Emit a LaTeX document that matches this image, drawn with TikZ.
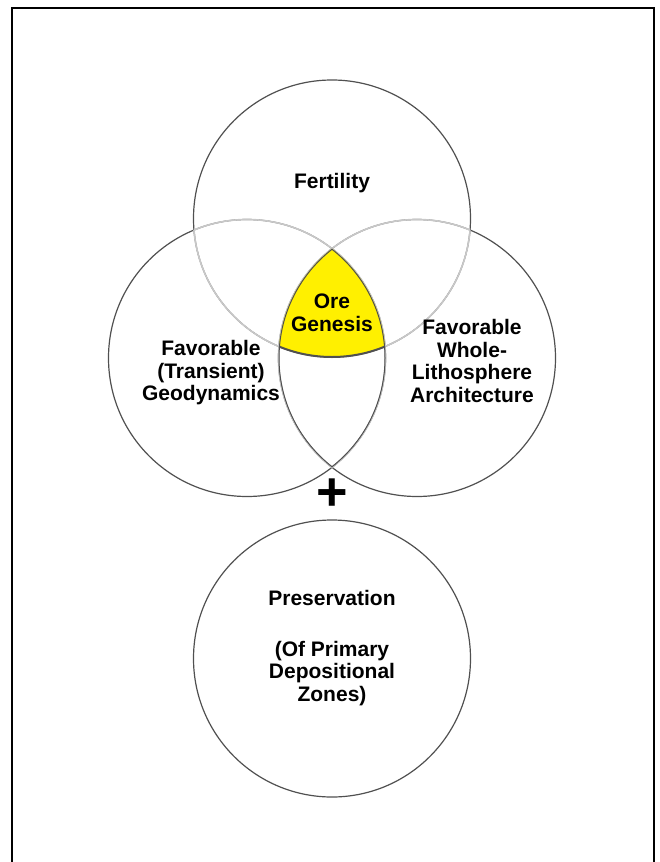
\documentclass[tikz,border=0pt]{standalone}
\usepackage{fontspec}
\setmainfont{Liberation Sans}
\definecolor{orefill}{RGB}{255,240,0}
\definecolor{rimdark}{RGB}{80,80,80}
\definecolor{rimlight}{RGB}{200,200,200}

\begin{document}
\begin{tikzpicture}[x=1pt,y=-1pt]
\tikzstyle{every node}+=[inner sep=0pt, align=center, font=\fontsize{21}{22.5}\selectfont\bfseries]
\tikzstyle{rim}=[rimdark, line width=1.2pt]
\tikzstyle{innerrim}=[rimlight, line width=1.6pt]
\useasboundingbox (0,0) rectangle (660,862);
\draw [black, line width=1.5pt] (12,870) -- (12,8) -- (654,8) -- (654,870);
\coordinate (cT) at (332,218.5);
\coordinate (cL) at (247,358);
\coordinate (cR) at (417,358);
\coordinate (cB) at (332,658.5);
% circles
\foreach \c in {cT,cL,cR,cB}
  \draw [rim] (\c) circle (138.5pt);
% arcs inside another circle are lighter
\foreach \a/\b in {cT/cL,cT/cR,cL/cT,cL/cR,cR/cT,cR/cL} {
  \begin{scope}
  \clip (\b) circle (138.5pt);
  \draw [innerrim] (\a) circle (138.5pt);
  \end{scope}
}
% ore genesis
\begin{scope}
\clip (cL) circle (138.5pt);
\clip (cR) circle (138.5pt);
\fill [orefill] (cT) circle (138.5pt);
\foreach \c in {cT,cL,cR}
  \draw [rimdark, line width=2pt] (\c) circle (138.5pt);
\end{scope}
\node (fert) at (332,183) {Fertility};
\node (ore) at (332,313) {Ore\\Genesis};
\node (geo) at (211,373) {Favorable\\(Transient)\\Geodynamics};
\node (arch) at (472,361) {Favorable\\Whole-\\Lithosphere\\Architecture};
\node (plus) at (332,495) {\fontsize{54}{54}\selectfont +};
\node (pres) at (332,648) {Preservation\\[28pt](Of Primary\\Depositional\\Zones)};
\end{tikzpicture}
\end{document}
